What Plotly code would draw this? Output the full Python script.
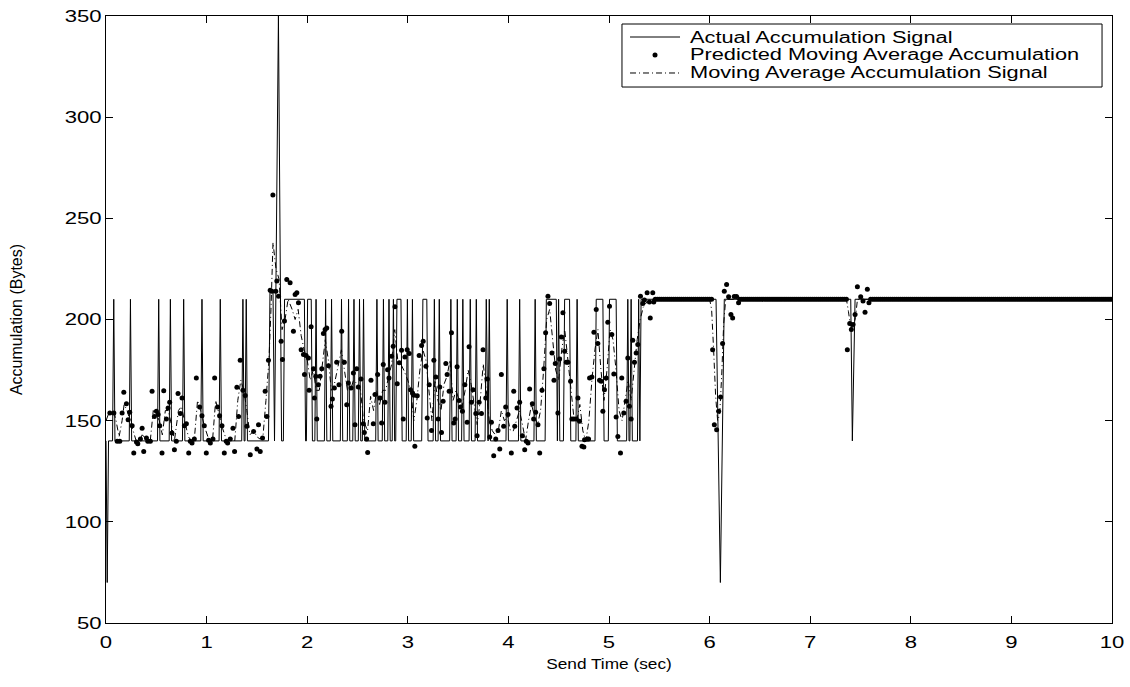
import numpy as np
import plotly.graph_objects as go

# ---------------- data ----------------
BASE_LEVEL = 140      # bytes, queue idle level
HIGH_LEVEL = 210      # bytes, queue busy level
EDGE = 0.012          # sec, sample spacing at a level change
SEND_STEP = 0.02      # sec, spacing of predictions on steady stretches

# intervals (sec) where the accumulation sits at HIGH_LEVEL; on == off is a one-sample spike
high_pulses = [
    (0.077, 0.077), (0.243, 0.243), (0.524, 0.524), (0.640, 0.640), (0.772, 0.772),
    (0.954, 0.954), (1.136, 1.136), (1.361, 1.361), (1.394, 1.394),
    (1.775, 1.972),
    (2.004, 2.040), (2.088, 2.088), (2.183, 2.183), (2.242, 2.242), (2.341, 2.341),
    (2.411, 2.411), (2.465, 2.465), (2.520, 2.520), (2.560, 2.560), (2.693, 2.693),
    (2.758, 2.758), (2.813, 2.813), (2.857, 2.857), (2.892, 2.932), (2.996, 2.996),
    (3.046, 3.046), (3.150, 3.189), (3.264, 3.264), (3.313, 3.313), (3.428, 3.428),
    (3.492, 3.492), (3.547, 3.547), (3.621, 3.621), (3.681, 3.681), (3.780, 3.780),
    (3.810, 3.810), (3.988, 3.988), (4.112, 4.112), (4.266, 4.266), (4.377, 4.476),
    (4.499, 4.499), (4.559, 4.608), (4.683, 4.683), (4.873, 4.939), (5.005, 5.071),
    (5.187, 5.187), (5.220, 5.220), (5.295, 5.295),
]

# irregular stretches of the actual signal (time, bytes)
start_t = [0.000, 0.012, 0.025]
start_v = [140, 70, 140]
burst_t = [1.615, 1.630, 1.660, 1.675, 1.714, 1.745]
burst_v = [140, 214, 214, 140, 350, 140]
tail_t = [5.307, 5.319, 6.064, 6.107, 6.146, 7.403, 7.419, 7.446, 10.0]
tail_v = [140, 210, 210, 70, 210, 210, 140, 210, 210]

# predicted moving-average accumulation samples
pred_t = [
    0.038, 0.078, 0.111, 0.137, 0.160, 0.177, 0.203, 0.220, 0.236, 0.260, 0.276, 0.303,
    0.316, 0.342, 0.359, 0.375, 0.402, 0.415, 0.441, 0.458, 0.481, 0.501, 0.518, 0.534,
    0.557, 0.574, 0.600, 0.617, 0.633, 0.656, 0.680, 0.699, 0.716, 0.739, 0.756, 0.779,
    0.799, 0.822, 0.838, 0.855, 0.878, 0.898, 0.931, 0.954, 0.977, 0.997, 1.020, 1.037,
    1.063, 1.080, 1.109, 1.129, 1.153, 1.176, 1.195, 1.209, 1.235, 1.262, 1.278, 1.301,
    1.318, 1.334, 1.361, 1.384,
    1.400, 1.434, 1.467, 1.500, 1.516, 1.533, 1.556, 1.582, 1.599, 1.615, 1.632, 1.649,
    1.659, 1.688, 1.698, 1.715, 1.741, 1.754, 1.774, 1.797, 1.830, 1.863, 1.880, 1.897,
    1.913, 1.940, 1.963, 1.973, 1.989, 2.012, 2.019, 2.039, 2.062, 2.072, 2.085, 2.095,
    2.111, 2.128, 2.145, 2.161, 2.178, 2.194, 2.211, 2.237, 2.250, 2.270, 2.293, 2.316,
    2.343, 2.369, 2.393, 2.409, 2.436, 2.459, 2.475, 2.492, 2.508, 2.535, 2.558, 2.568,
    2.591, 2.601, 2.634, 2.657, 2.674, 2.700, 2.723, 2.740, 2.756, 2.773, 2.799, 2.813,
    2.839, 2.855, 2.872, 2.895, 2.915, 2.938, 2.955, 2.971, 2.994, 3.014, 3.027, 3.047,
    3.061, 3.070, 3.094, 3.113, 3.137, 3.153, 3.180, 3.193, 3.213, 3.236, 3.259, 3.279,
    3.302, 3.318, 3.335, 3.351, 3.378, 3.391, 3.411, 3.434, 3.457, 3.471, 3.490, 3.510,
    3.524, 3.543, 3.567, 3.590, 3.609, 3.633, 3.649, 3.676, 3.689, 3.709, 3.732, 3.748,
    3.775, 3.791, 3.814, 3.831, 3.854, 3.874, 3.897, 3.914, 3.930, 3.953, 3.973, 3.996,
    4.029, 4.053, 4.063, 4.086, 4.112, 4.139, 4.162, 4.178, 4.195, 4.211, 4.238, 4.251,
    4.271, 4.294,
    4.311, 4.334, 4.353, 4.370, 4.393, 4.410, 4.433, 4.453, 4.466, 4.492, 4.509, 4.526,
    4.542, 4.559, 4.575, 4.592, 4.618, 4.631, 4.651, 4.674, 4.691, 4.707, 4.731, 4.750,
    4.757, 4.783, 4.797, 4.807, 4.830, 4.850, 4.873, 4.889, 4.906, 4.922, 4.939, 4.955,
    4.972, 4.988, 5.005, 5.028, 5.048, 5.071, 5.088, 5.114, 5.127, 5.147, 5.170, 5.187,
    5.203, 5.220, 5.236, 5.253, 5.270, 5.286, 5.313, 5.336, 5.352, 5.379, 5.402, 5.410,
    5.435, 5.445,
    6.030, 6.047, 6.070, 6.090, 6.109, 6.129, 6.146, 6.169, 6.189, 6.212, 6.229, 6.245,
    6.268, 6.288,
    7.369, 7.393, 7.409, 7.426, 7.446, 7.469, 7.502, 7.525, 7.545, 7.568, 7.584,
]
pred_v = [
    153.8, 153.8, 139.8, 139.8, 153.8, 164.0, 158.4, 150.5, 154.1, 147.5, 134.0, 139.5,
    138.6, 140.9, 146.2, 134.8, 141.4, 139.8, 139.8, 164.5, 152.1, 154.6, 153.0, 147.5,
    134.0, 164.8, 150.8, 156.3, 159.1, 143.9, 135.6, 139.8, 163.4, 153.5, 161.2, 147.5,
    148.5, 134.0, 139.8, 139.0, 140.9, 171.1, 156.8, 152.4, 147.5, 134.0, 140.3, 139.0,
    140.9, 171.1, 156.8, 152.4, 147.5, 134.0, 139.8, 139.0, 140.9, 146.2, 134.8, 166.5,
    152.1, 179.9, 165.0, 162.4,
    147.2, 133.2, 144.7, 136.0, 148.0, 134.8, 141.4, 164.5, 152.1, 179.9, 214.5, 214.0,
    261.5, 214.0, 219.0, 211.5, 189.3, 180.2, 199.2, 219.8, 218.2, 194.2, 212.4, 213.2,
    208.3, 185.1, 182.7, 172.8, 182.2, 181.0, 165.0, 196.4, 175.6, 161.2, 171.9, 150.8,
    167.8, 171.9, 175.6, 193.1, 195.0, 195.8, 177.2, 157.1, 160.7, 166.2, 178.9, 167.8,
    194.2, 178.9, 157.9, 168.6, 166.2, 173.6, 148.0, 175.6, 166.7, 170.6, 148.5, 144.2,
    140.9, 134.3, 170.0, 148.5, 162.9, 172.8, 161.2, 148.8, 177.7, 159.1, 175.2, 171.1,
    181.8, 186.8, 206.3, 168.3, 178.6, 184.8, 150.8, 181.5, 185.1, 183.2, 165.3, 163.7,
    162.6, 137.3, 162.3, 182.2, 187.1, 189.3, 176.9, 151.3, 167.8, 145.2, 179.9, 171.6,
    150.8, 166.7, 144.2, 159.6, 178.2, 172.8, 164.5, 193.4, 148.8, 150.8, 176.6, 160.0,
    156.8, 154.6, 167.8, 149.2, 186.5, 159.1, 165.3, 153.5, 142.6, 159.1, 153.5, 185.1,
    161.2, 170.6, 141.9, 149.2, 132.7, 140.9, 145.2, 136.0, 172.8, 147.2, 156.8, 153.0,
    134.0, 164.5, 147.2, 156.3, 159.1, 142.6, 135.6, 139.8, 139.0, 165.7, 158.4, 150.8,
    154.1, 148.0,
    134.0, 165.0, 175.6, 193.4, 211.5, 207.9, 183.5, 170.0, 178.2, 153.8, 180.5, 191.4,
    203.3, 184.3, 178.9, 178.9, 169.5, 150.8, 150.8, 150.8, 161.2, 149.7, 137.3, 137.0,
    140.6, 140.9, 140.9, 171.1, 171.6, 193.7, 205.0, 188.1, 170.0, 169.5, 154.6, 165.3,
    171.1, 198.7, 206.6, 192.6, 173.1, 151.8, 142.2, 134.0, 171.1, 153.8, 159.6, 181.0,
    157.1, 150.8, 189.8, 178.9, 183.5, 187.6, 211.5, 207.9, 209.6, 213.2, 208.6, 200.8,
    213.2, 208.6,
    185.1, 148.0, 145.5, 154.6, 161.7, 188.1, 214.0, 217.3, 211.2, 202.5, 200.8, 211.4,
    211.4, 208.3,
    185.1, 198.0, 195.0, 197.5, 202.5, 216.2, 211.2, 209.1, 203.6, 214.9, 208.3,
]
# steady stretches where every prediction equals the busy level: (from, to, bytes)
pred_steady = [(5.46, 6.02, 210), (6.30, 7.36, 210), (7.60, 10.0, 210)]

# moving-average accumulation signal
ma_t = [
    0.00, 0.03, 0.05, 0.08, 0.10, 0.13, 0.16, 0.18, 0.21, 0.24, 0.27, 0.30, 0.33, 0.36,
    0.40, 0.44, 0.47, 0.50, 0.53, 0.56, 0.59, 0.62, 0.65, 0.68, 0.72, 0.75, 0.78, 0.82,
    0.85, 0.88, 0.91, 0.94, 0.98, 1.02, 1.06, 1.09, 1.12, 1.16, 1.20, 1.24, 1.28, 1.31,
    1.34, 1.37, 1.40, 1.43, 1.47, 1.50, 1.53, 1.56, 1.59, 1.62, 1.64, 1.66, 1.69, 1.72,
    1.75, 1.78, 1.81, 1.85, 1.88, 1.91, 1.94, 1.97, 2.00, 2.03, 2.06, 2.09, 2.12, 2.15,
    2.18, 2.21, 2.24, 2.27, 2.30, 2.34, 2.37, 2.40, 2.43, 2.46, 2.50, 2.53, 2.56, 2.60,
    2.63, 2.66, 2.69, 2.72, 2.75, 2.78, 2.81, 2.84, 2.87, 2.90, 2.93, 2.96, 3.00, 3.03,
    3.06, 3.09, 3.12, 3.15, 3.18, 3.21, 3.24, 3.27, 3.30, 3.33, 3.36, 3.39, 3.42, 3.45,
    3.48, 3.51, 3.54, 3.57, 3.60, 3.63, 3.66, 3.69, 3.72, 3.75, 3.78, 3.81, 3.84, 3.87,
    3.90, 3.93, 3.96, 3.99, 4.02, 4.05, 4.08, 4.11, 4.14, 4.17, 4.20, 4.23, 4.26, 4.29,
    4.32, 4.35, 4.38, 4.41, 4.44, 4.47, 4.50, 4.53, 4.56, 4.59, 4.62, 4.65, 4.68, 4.71,
    4.74, 4.77, 4.80, 4.83, 4.86, 4.89, 4.92, 4.95, 4.98, 5.01, 5.04, 5.07, 5.10, 5.13,
    5.16, 5.19, 5.22, 5.25, 5.28, 5.31, 5.34, 5.38, 5.42,
    6.00, 6.02, 6.04, 6.06, 6.08, 6.10, 6.12, 6.14, 6.16,
    7.36, 7.38, 7.40, 7.43, 7.45, 7.47, 10.0,
]
ma_v = [
    150, 154, 154, 154, 150, 142, 150, 158, 155, 150, 145, 140, 140, 143,
    141, 140, 155, 153, 150, 143, 155, 155, 148, 140, 155, 157, 150, 142,
    140, 142, 160, 155, 147, 141, 141, 160, 154, 146, 140, 142, 140, 160,
    170, 165, 155, 143, 145, 142, 141, 142, 160, 180, 205, 238, 225, 220,
    195, 200, 210, 205, 200, 205, 192, 185, 180, 170, 175, 165, 165, 178,
    190, 180, 165, 168, 175, 185, 175, 165, 165, 170, 168, 165, 150, 145,
    162, 155, 165, 158, 165, 165, 172, 178, 195, 180, 178, 175, 170, 165,
    150, 160, 175, 185, 180, 165, 150, 170, 160, 155, 168, 172, 180, 160,
    165, 160, 157, 165, 175, 168, 158, 148, 160, 178, 165, 150, 145, 143,
    145, 155, 150, 152, 145, 145, 150, 155, 148, 140, 150, 158, 152, 148,
    155, 175, 200, 205, 190, 175, 170, 185, 195, 180, 165, 152, 150, 158,
    145, 140, 150, 170, 185, 195, 175, 160, 175, 195, 190, 175, 155, 150,
    160, 170, 160, 175, 190, 200, 206, 209, 210,
    210, 205, 185, 162, 150, 153, 172, 198, 210,
    210, 204, 197, 196, 201, 210, 210,
]

series_names = [
    "Actual Accumulation Signal",
    "Predicted Moving Average Accumulation",
    "Moving Average Accumulation Signal",
]

# ---------------- assemble the actual step signal ----------------
pts = list(zip(start_t, start_v)) + list(zip(burst_t, burst_v)) + list(zip(tail_t, tail_v))
for on, off in high_pulses:
    pts += [(on - EDGE, BASE_LEVEL), (on, HIGH_LEVEL)]
    if off > on:
        pts.append((off, HIGH_LEVEL))
    pts.append((off + EDGE, BASE_LEVEL))
pts.sort(key=lambda p: p[0])
actual_t = [p[0] for p in pts]
actual_v = [p[1] for p in pts]

# ---------------- assemble predictions incl. steady stretches ----------------
all_pred = list(zip(pred_t, pred_v))
for a, b, lvl in pred_steady:
    for tt in np.arange(a, b + 1e-9, SEND_STEP):
        all_pred.append((float(tt), lvl))
all_pred.sort(key=lambda p: p[0])
p_t = [p[0] for p in all_pred]
p_v = [p[1] for p in all_pred]

# ---------------- styles ----------------
FONT = "Liberation Sans, Arial, Helvetica, sans-serif"
MA_DASH = "6px,3px,1px,3px"
TEXT_STRETCH = 1.3        # horizontal widening of tick labels
TITLE_STRETCH = 1.15
LEGEND_STRETCH = 1.36

fig = go.Figure()
fig.add_trace(go.Scatter(
    x=actual_t, y=actual_v, mode="lines", name=series_names[0], showlegend=False,
    line=dict(color="black", width=1),
))
fig.add_trace(go.Scatter(
    x=p_t, y=p_v, mode="markers", name=series_names[1], showlegend=False,
    marker=dict(color="black", size=5, line=dict(width=0)),
))
fig.add_trace(go.Scatter(
    x=ma_t, y=ma_v, mode="lines", name=series_names[2], showlegend=False,
    line=dict(color="black", width=1, dash=MA_DASH),
))

tick_font = dict(family=FONT, size=17, color="black")
axis_common = dict(
    showgrid=False, zeroline=False, showline=True, linecolor="black", linewidth=1,
    mirror="ticks", ticks="inside", ticklen=7, tickcolor="black", tickwidth=1,
    tickfont=tick_font, automargin=False,
)
fig.update_xaxes(
    range=[0, 10], tickmode="array", tickvals=list(range(0, 11)), ticklabelstandoff=4,
    title=dict(text="Send Time (sec)", font=dict(family=FONT, size=15, color="black"),
               standoff=7),
    **axis_common,
)
fig.update_yaxes(
    range=[50, 350], tickmode="array", tickvals=list(range(50, 351, 50)),
    title=dict(text="Accumulation (Bytes)", font=dict(family=FONT, size=16, color="black"),
               standoff=46),
    **axis_common,
)

# ---------------- boxed key in the upper right corner (paper coordinates) ----------------
box_x0, box_x1, box_y0, box_y1 = 0.5129, 0.9901, 0.8830, 0.9868
row_y = [0.9654, 0.9358, 0.9061]
sample_x0, sample_x1, text_x = 0.5209, 0.5706, 0.5785
dot_rx, dot_ry = 2.5 / 1006, 2.5 / 607

shapes = [dict(type="rect", xref="paper", yref="paper", x0=box_x0, x1=box_x1,
               y0=box_y0, y1=box_y1, line=dict(color="black", width=1),
               fillcolor="white", layer="above")]
shapes.append(dict(type="line", xref="paper", yref="paper", x0=sample_x0, x1=sample_x1,
                   y0=row_y[0], y1=row_y[0], line=dict(color="black", width=1), layer="above"))
xc = (sample_x0 + sample_x1) / 2
shapes.append(dict(type="circle", xref="paper", yref="paper", x0=xc - dot_rx, x1=xc + dot_rx,
                   y0=row_y[1] - dot_ry, y1=row_y[1] + dot_ry, fillcolor="black",
                   line=dict(color="black", width=0), layer="above"))
shapes.append(dict(type="line", xref="paper", yref="paper", x0=sample_x0, x1=sample_x1,
                   y0=row_y[2], y1=row_y[2], line=dict(color="black", width=1, dash=MA_DASH),
                   layer="above"))
annotations = [
    dict(text=name, xref="paper", yref="paper", x=text_x, y=yy, xanchor="left",
         yanchor="middle", align="left", showarrow=False,
         font=dict(family=FONT, size=16, color="black"))
    for name, yy in zip(series_names, row_y)
]

fig.update_layout(
    width=1130, height=687,
    margin=dict(l=106, r=18, t=16, b=64),
    paper_bgcolor="white", plot_bgcolor="white",
    showlegend=False,
    shapes=shapes, annotations=annotations,
)

# widen the horizontal labels to the figure's wide lettering
post = """
var gd = document.getElementById('{plot_id}');
function widen(sel, k) {
  gd.querySelectorAll(sel).forEach(function (t) {
    var w = t.getComputedTextLength();
    if (w > 0) {
      t.setAttribute('lengthAdjust', 'spacingAndGlyphs');
      t.setAttribute('textLength', (w * k).toFixed(1));
    }
  });
}
widen('.xtick text', %s);
widen('.ytick text', %s);
widen('text.xtitle', %s);
widen('text.annotation-text', %s);
""" % (TEXT_STRETCH, TEXT_STRETCH, TITLE_STRETCH, LEGEND_STRETCH)

fig.write_html("out.html", post_script=post)
